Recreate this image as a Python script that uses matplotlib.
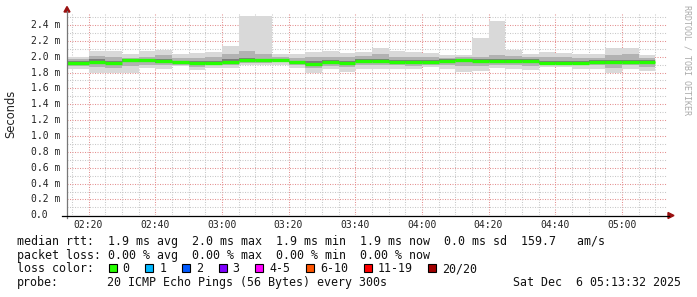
import numpy as np
import matplotlib
matplotlib.use("Agg")
import matplotlib.pyplot as plt
from matplotlib.patches import Polygon, Rectangle
from matplotlib.ticker import MultipleLocator
from matplotlib.transforms import blended_transform_factory

# ---------------- data ----------------
bin_start = ["02:15", "02:20", "02:25", "02:30", "02:35", "02:40", "02:45", "02:50",
             "02:55", "03:00", "03:05", "03:10", "03:15", "03:20", "03:25", "03:30",
             "03:35", "03:40", "03:45", "03:50", "03:55", "04:00", "04:05", "04:10",
             "04:15", "04:20", "04:25", "04:30", "04:35", "04:40", "04:45", "04:50",
             "04:55", "05:00", "05:05"]
median = [1.924, 1.937, 1.924, 1.954, 1.954, 1.945, 1.930, 1.924,
          1.924, 1.937, 1.958, 1.958, 1.958, 1.930, 1.911, 1.930,
          1.924, 1.949, 1.949, 1.937, 1.937, 1.933, 1.946, 1.960,
          1.948, 1.948, 1.946, 1.946, 1.924, 1.924, 1.924, 1.933,
          1.933, 1.933, 1.933]
smoke_min = [1.85, 1.80, 1.80, 1.80, 1.86, 1.85, 1.88, 1.83,
             1.86, 1.86, 1.895, 1.895, 1.895, 1.86, 1.80, 1.85,
             1.81, 1.85, 1.84, 1.85, 1.84, 1.87, 1.84, 1.81,
             1.82, 1.86, 1.85, 1.83, 1.87, 1.87, 1.85, 1.85,
             1.79, 1.85, 1.82]
smoke_max = [2.00, 2.075, 2.075, 2.03, 2.075, 2.09, 2.03, 2.05,
             2.06, 2.13, 2.51, 2.51, 2.03, 2.03, 2.06, 2.075,
             2.05, 2.06, 2.11, 2.07, 2.06, 2.05, 2.02, 2.02,
             2.24, 2.45, 2.09, 2.03, 2.06, 2.05, 2.03, 2.03,
             2.11, 2.11, 2.02]
mid_lo = [1.88, 1.87, 1.86, 1.88, 1.90, 1.89, 1.90, 1.87,
          1.89, 1.89, 1.92, 1.92, 1.93, 1.89, 1.86, 1.88,
          1.87, 1.89, 1.89, 1.90, 1.88, 1.90, 1.89, 1.88,
          1.88, 1.90, 1.89, 1.88, 1.90, 1.90, 1.89, 1.89,
          1.86, 1.89, 1.87]
mid_hi = [1.97, 2.01, 2.00, 1.98, 2.00, 2.02, 1.98, 1.98,
          1.99, 2.03, 2.07, 2.04, 1.99, 1.98, 1.99, 2.00,
          1.99, 2.01, 2.03, 2.00, 2.00, 1.99, 1.98, 1.99,
          2.00, 2.02, 2.01, 1.99, 1.99, 1.99, 1.98, 1.98,
          2.02, 2.03, 1.98]
core_lo = [1.905, 1.915, 1.905, 1.935, 1.935, 1.925, 1.915, 1.905,
           1.905, 1.920, 1.940, 1.945, 1.945, 1.915, 1.895, 1.910,
           1.905, 1.930, 1.930, 1.920, 1.920, 1.915, 1.930, 1.940,
           1.930, 1.930, 1.925, 1.930, 1.905, 1.910, 1.910, 1.915,
           1.910, 1.915, 1.915]
core_hi = [1.945, 1.965, 1.950, 1.965, 1.975, 1.970, 1.950, 1.945,
           1.950, 1.970, 1.985, 1.975, 1.970, 1.950, 1.940, 1.955,
           1.945, 1.970, 1.975, 1.960, 1.960, 1.955, 1.965, 1.975,
           1.970, 1.975, 1.970, 1.965, 1.945, 1.945, 1.945, 1.955,
           1.960, 1.960, 1.955]

axis_start = "02:13:32"
axis_end = "05:13:32"
x_tick_labels = ["02:20", "02:40", "03:00", "03:20", "03:40", "04:00", "04:20", "04:40", "05:00"]
y_ticks = [0.0, 0.2, 0.4, 0.6, 0.8, 1.0, 1.2, 1.4, 1.6, 1.8, 2.0, 2.2, 2.4]
y_tick_labels = ["0.0", "0.2 m", "0.4 m", "0.6 m", "0.8 m", "1.0 m", "1.2 m",
                 "1.4 m", "1.6 m", "1.8 m", "2.0 m", "2.2 m", "2.4 m"]
y_label = "Seconds"

stats_rtt = "median rtt:  1.9 ms avg  2.0 ms max  1.9 ms min  1.9 ms now  0.0 ms sd  159.7   am/s"
stats_loss = "packet loss: 0.00 % avg  0.00 % max  0.00 % min  0.00 % now"
loss_labels = ["0", "1", "2", "3", "4-5", "6-10", "11-19", "20/20"]
loss_colors = ["#26ff00", "#00b8ff", "#0059ff", "#7e00ff", "#ff00ff", "#ff5500", "#ff0000", "#a10000"]
probe_text = "20 ICMP Echo Pings (56 Bytes) every 300s"
date_text = "Sat Dec  6 05:13:32 2025"
watermark = "RRDTOOL / TOBI OETIKER"


def to_min(s):
    parts = [int(p) for p in s.split(":")]
    while len(parts) < 3:
        parts.append(0)
    return parts[0] * 60 + parts[1] + parts[2] / 60.0


# ---------------- figure ----------------
W, H = 697, 297
fig = plt.figure(figsize=(W / 100, H / 100), dpi=100)
fx = lambda x: x / W
fy = lambda y: 1 - y / H

ax_l, ax_r, ax_t, ax_b = 67, 667, 13, 215.3
ax = fig.add_axes([fx(ax_l), fy(ax_b), fx(ax_r - ax_l), (ax_b - ax_t) / H])
for s in ax.spines.values():
    s.set_visible(False)

x0, x1 = to_min(axis_start), to_min(axis_end)
px_per_unit = 79.3
ax.set_xlim(x0, x1)
ax.set_ylim(0, (ax_b - ax_t) / px_per_unit)

starts = np.array([to_min(s) for s in bin_start])
lefts = starts.copy()
lefts[0] = x0
rights = starts + 5
widths = rights - lefts

med = np.array(median)
for lo, hi, col in [(smoke_min, smoke_max, "#d9d9d9"),
                    (mid_lo, mid_hi, "#b2b2b2"),
                    (core_lo, core_hi, "#7c7c7c")]:
    lo = np.array(lo); hi = np.array(hi)
    ax.bar(lefts, hi - lo, bottom=lo, width=widths, align="edge",
           color=col, linewidth=0, zorder=2)

ax.hlines(med, lefts, rights, colors="#26ff00", linewidth=2.4, zorder=4,
          capstyle="butt")

# grid
ax.xaxis.set_major_locator(MultipleLocator(20))
ax.xaxis.set_minor_locator(MultipleLocator(5))
ax.yaxis.set_major_locator(MultipleLocator(0.2))
ax.yaxis.set_minor_locator(MultipleLocator(0.1))
ax.grid(which="minor", color="#c8c8c8", linestyle=(0, (1, 1.4)), linewidth=0.75, zorder=5)
ax.grid(which="major", color="#e49090", linestyle=(0, (1, 1.4)), linewidth=0.75, zorder=5)
ax.tick_params(which="both", length=0, labelbottom=False, labelleft=False)

# tick labels (rrdtool style)
mono = "DejaVu Sans Mono"
btf = blended_transform_factory(fig.transFigure, ax.transData)
for v, lab in zip(y_ticks, y_tick_labels):
    ax.text(fx(30.7), v, lab, transform=btf, ha="left", va="center",
            fontsize=7, family=mono, color="#222222")
btx = blended_transform_factory(ax.transData, fig.transFigure)
for lab in x_tick_labels:
    ax.text(to_min(lab), fy(225), lab, transform=btx, ha="center", va="center",
            fontsize=7, family=mono, color="#222222")

fig.text(fx(11), fy(114), y_label, rotation=90, ha="center", va="center",
         fontsize=8.3, family="DejaVu Sans", color="#222222")

# axis lines and arrows
fig.add_artist(plt.Line2D([fx(ax_l), fx(ax_l)], [fy(218), fy(11)], color="#777777",
                          linewidth=0.9, transform=fig.transFigure))
fig.add_artist(plt.Line2D([fx(62), fx(669)], [fy(215.5), fy(215.5)], color="#000000",
                          linewidth=0.9, transform=fig.transFigure))
arrow_col = "#9a1010"
fig.add_artist(Polygon([[fx(64), fy(12)], [fx(70), fy(12)], [fx(67), fy(6.5)]],
                       closed=True, color=arrow_col, transform=fig.transFigure))
fig.add_artist(Polygon([[fx(668), fy(212.5)], [fx(668), fy(218.5)], [fx(674), fy(215.5)]],
                       closed=True, color=arrow_col, transform=fig.transFigure))

# watermark
fig.text(fx(687), fy(5), watermark, rotation=270, ha="center", va="top",
         fontsize=6, family=mono, color="#aaaaaa")

# legend / stats
fs = 8.37
tc = "#111111"
fig.text(fx(16.7), fy(241), stats_rtt, ha="left", va="center", fontsize=fs, family=mono, color=tc)
fig.text(fx(16.7), fy(255), stats_loss, ha="left", va="center", fontsize=fs, family=mono, color=tc)
fig.text(fx(16.7), fy(268.5), "loss color:", ha="left", va="center", fontsize=fs, family=mono, color=tc)
xb = 108.5
for lab, col in zip(loss_labels, loss_colors):
    fig.add_artist(Rectangle((fx(xb), fy(272.3)), fx(8), 8 / H, facecolor=col,
                             edgecolor="#000000", linewidth=0.8, transform=fig.transFigure))
    fig.text(fx(xb + 14), fy(268.5), lab, ha="left", va="center", fontsize=fs, family=mono, color=tc)
    xb += 29.7 + 7 * len(lab)
fig.text(fx(16.7), fy(282.4), "probe:", ha="left", va="center", fontsize=fs, family=mono, color=tc)
fig.text(fx(107.3), fy(282.4), probe_text, ha="left", va="center", fontsize=fs, family=mono, color=tc)
fig.text(fx(681), fy(282.4), date_text, ha="right", va="center", fontsize=fs, family=mono, color=tc)

fig.savefig("out.png", dpi=100, facecolor="white")
